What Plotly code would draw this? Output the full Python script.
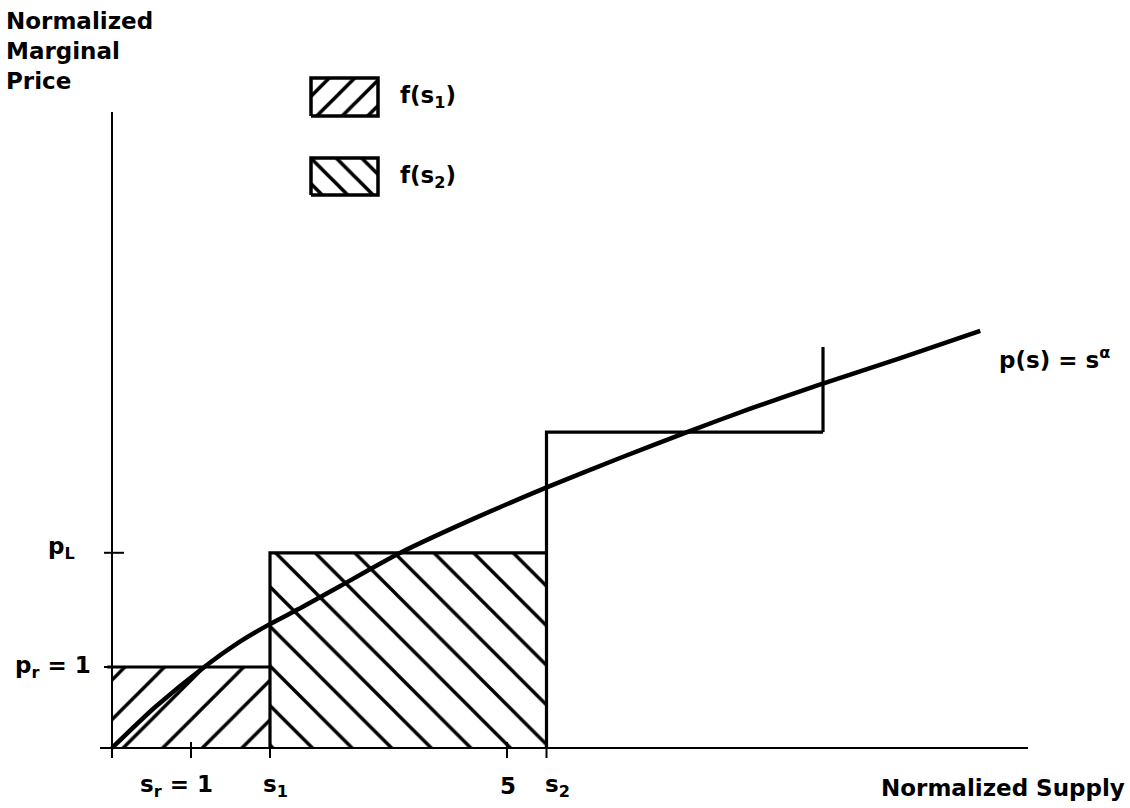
import plotly.graph_objects as go

# ---------------- data ----------------
step_edges = [0.0, 2.0, 5.5, 9.0]          # s_0, s1, s2, upper end
step_heights = [1.0, 2.41, 3.90]           # p_r = 1, p_L, third block
cap_top = 4.95                              # top of the final vertical marker
hatch_shapes = ["/", "\\", None]            # f(s1), f(s2), unhatched

curve_s = [0.0, 0.54, 1.18, 1.60, 1.98, 2.41, 2.89, 3.65, 4.53, 5.51, 6.43, 7.28, 8.08, 8.94, 9.97, 10.99]
curve_p = [0.0, 0.50, 1.01, 1.30, 1.52, 1.74, 2.00, 2.41, 2.81, 3.22, 3.58, 3.90, 4.19, 4.48, 4.81, 5.15]

x_tick_vals = [0.0, 1.0, 2.0, 5.0, 5.5]
x_tick_text = ["", "s<sub>r</sub> = 1", "s<sub>1</sub>", "5", "s<sub>2</sub>"]
y_tick_vals = [1.0, 2.41]
y_tick_text = ["p<sub>r</sub> = 1", "p<sub>L</sub>"]

legend_text = ["f(s<sub>1</sub>)", "f(s<sub>2</sub>)"]

# ---------------- geometry helpers (pixel <-> data) ----------------
W, H = 1130, 808
X0PX, XPU = 112, 79.0     # pixel of s=0, pixels per unit
Y0PX, YPU = 748, 81.0     # pixel of p=0, pixels per unit

def px2x(px):
    return (px - X0PX) / XPU

def px2y(py):
    return (Y0PX - py) / YPU

FONT = "DejaVu Sans"
FS = 23
BLACK = "black"

fig = go.Figure()

# hatched blocks
for i, shp in enumerate(hatch_shapes):
    if shp is None:
        continue
    x0, x1 = step_edges[i], step_edges[i + 1]
    h = step_heights[i]
    fig.add_trace(go.Scatter(
        x=[x0, x1, x1, x0, x0], y=[0, 0, h, h, 0],
        mode="none", fill="toself", fillcolor="white",
        fillpattern=dict(shape=shp, size=28, solidity=0.12,
                         fgcolor=BLACK, bgcolor="white", fgopacity=1),
        hoverinfo="skip", showlegend=False))

# step outline
sx, sy = [], []
sx += [step_edges[0] - 0.06, step_edges[1]]
sy += [step_heights[0], step_heights[0]]
sx.append(None); sy.append(None)
for i in (1, 2):
    x0, x1 = step_edges[i], step_edges[i + 1]
    h = step_heights[i]
    sx += [x0, x0, x1]
    sy += [0, h, h]
    sx.append(None); sy.append(None)
sx += [step_edges[3], step_edges[3]]
sy += [step_heights[2], cap_top]
fig.add_trace(go.Scatter(x=sx, y=sy, mode="lines",
                         line=dict(color=BLACK, width=3.2),
                         hoverinfo="skip", showlegend=False))

# price curve
fig.add_trace(go.Scatter(x=curve_s, y=curve_p, mode="lines",
                         line=dict(color=BLACK, width=4.5, shape="spline", smoothing=0.7),
                         hoverinfo="skip", showlegend=False))

# axes
fig.add_trace(go.Scatter(x=[px2x(100), px2x(1028)], y=[0, 0], mode="lines",
                         line=dict(color=BLACK, width=2), hoverinfo="skip", showlegend=False))
fig.add_trace(go.Scatter(x=[0, 0], y=[0, px2y(112)], mode="lines",
                         line=dict(color=BLACK, width=2), hoverinfo="skip", showlegend=False))

# x ticks (crossing the axis)
tx, ty = [], []
for v in x_tick_vals:
    tx += [v, v, None]
    ty += [px2y(742), px2y(758), None]
fig.add_trace(go.Scatter(x=tx, y=ty, mode="lines", line=dict(color=BLACK, width=2),
                         hoverinfo="skip", showlegend=False))
# y ticks
yx, yy = [], []
for v in y_tick_vals:
    yx += [px2x(104), px2x(124), None]
    yy += [v, v, None]
fig.add_trace(go.Scatter(x=yx, y=yy, mode="lines", line=dict(color=BLACK, width=2),
                         hoverinfo="skip", showlegend=False))

# legend boxes
leg_boxes = [(311, 378, 78, 116), (311, 378, 158, 195)]
for (l, r, t, b), shp in zip(leg_boxes, hatch_shapes[:2]):
    xs = [px2x(l), px2x(r), px2x(r), px2x(l), px2x(l)]
    ys = [px2y(b), px2y(b), px2y(t), px2y(t), px2y(b)]
    fig.add_trace(go.Scatter(
        x=xs, y=ys, mode="lines", fill="toself", fillcolor="white",
        line=dict(color=BLACK, width=3.5),
        fillpattern=dict(shape=shp, size=18, solidity=0.2,
                         fgcolor=BLACK, bgcolor="white", fgopacity=1),
        hoverinfo="skip", showlegend=False))

annotations = []

def ann(text, x, y, xanchor="center", yanchor="middle", size=FS):
    annotations.append(dict(text=text, x=x, y=y, xref="x", yref="y",
                            xanchor=xanchor, yanchor=yanchor, showarrow=False,
                            font=dict(family=FONT, size=size, color=BLACK, weight="bold")))

# x tick labels
x_label_px = [None, 176, 275, 508, 557]
for v, t, cpx in zip(x_tick_vals, x_tick_text, x_label_px):
    if t:
        ann(t, px2x(cpx), px2y(786))
# y tick labels
ann(y_tick_text[0], px2x(13), y_tick_vals[0], xanchor="left")
ann(y_tick_text[1], px2x(46), px2y(548), xanchor="left")

# axis titles
ann("Normalized", px2x(4), px2y(21), xanchor="left")
ann("Marginal", px2x(4), px2y(51), xanchor="left")
ann("Price", px2x(4), px2y(81), xanchor="left")
ann("Normalized Supply", px2x(879), px2y(788), xanchor="left")

# curve label
ann("p(s) = s<sup>α</sup>", px2x(997), px2y(358), xanchor="left")

# legend labels
ann(legend_text[0], px2x(398), px2y(97), xanchor="left")
ann(legend_text[1], px2x(398), px2y(177), xanchor="left")

fig.update_layout(
    width=W, height=H,
    margin=dict(l=0, r=0, t=0, b=0),
    paper_bgcolor="white", plot_bgcolor="white",
    xaxis=dict(range=[px2x(0), px2x(W)], visible=False, fixedrange=True),
    yaxis=dict(range=[px2y(H), px2y(0)], visible=False, fixedrange=True),
    annotations=annotations,
    showlegend=False,
)

fig.write_html("out.html")
